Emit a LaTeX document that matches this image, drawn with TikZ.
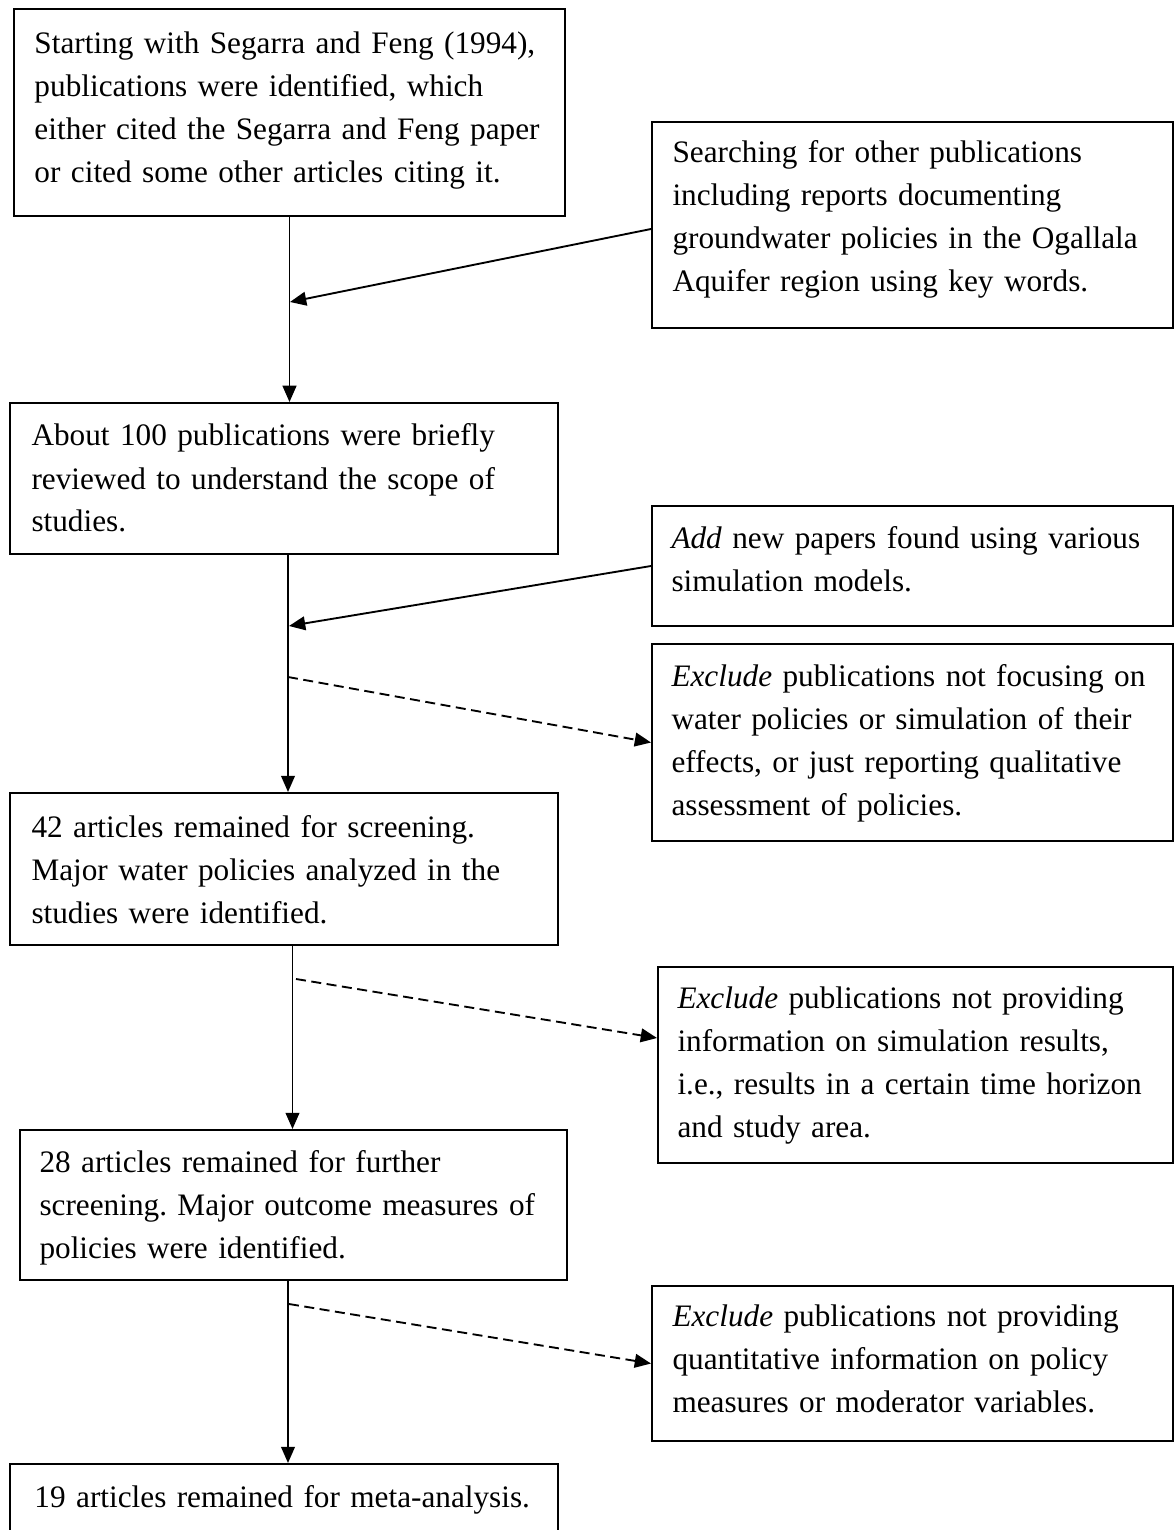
\documentclass[tikz,border=0pt]{standalone}
\usepackage{fontspec}
\setmainfont{Liberation Serif}
\usetikzlibrary{arrows.meta}
\frenchspacing
\begin{document}
\begin{tikzpicture}[x=0.4pt,y=-0.4pt,
  box/.style={draw=black, line width=0.8pt, rectangle, anchor=north west, inner sep=0pt},
  txt/.style={anchor=base west, inner sep=0pt, align=left, text width=#1, font=\fontsize{12.5}{17.2}\selectfont\frenchspacing},
  txt/.default=205pt,
  conn/.style={line width=0.75pt, -{Triangle[length=6.5pt,width=5.5pt]}},
  dconn/.style={conn, dash pattern=on 4pt off 2.2pt}]
\useasboundingbox (0,0) rectangle (1173,1530);

% boxes
\node[box, minimum width=551*0.4pt,   minimum height=207*0.4pt] (b1)  at (13,8) {};
\node[box, minimum width=520.5*0.4pt, minimum height=206*0.4pt] (b2)  at (651,121) {};
\node[box, minimum width=548*0.4pt,   minimum height=151*0.4pt] (b3)  at (9,402) {};
\node[box, minimum width=520.5*0.4pt, minimum height=120*0.4pt] (b4)  at (651,505) {};
\node[box, minimum width=520.5*0.4pt, minimum height=197*0.4pt] (b5)  at (651,643) {};
\node[box, minimum width=548*0.4pt,   minimum height=152*0.4pt] (b6)  at (9,792) {};
\node[box, minimum width=514.5*0.4pt, minimum height=196*0.4pt] (b7)  at (657,966) {};
\node[box, minimum width=547*0.4pt,   minimum height=150*0.4pt] (b8)  at (19,1129) {};
\node[box, minimum width=520.5*0.4pt, minimum height=155*0.4pt] (b9)  at (651,1285) {};
\node[box, minimum width=548*0.4pt,   minimum height=97*0.4pt]  (b10) at (9,1463) {};

% texts
\node[txt=215pt] (t1) at (34,54) {Starting with Segarra and Feng (1994),\\ publications were identified, which\\ either cited the Segarra and Feng paper\\ or cited some other articles citing it.};
\node[txt] (t2) at (672,163) {Searching for other publications\\ including reports documenting\\ groundwater policies in the Ogallala\\ Aquifer region using key words.};
\node[txt=215pt] (t3) at (31,446) {About 100 publications were briefly\\ reviewed to understand the scope of\\ studies.};
\node[txt] (t4) at (671,548) {\textit{Add} new papers found using various\\ simulation models.};
\node[txt] (t5) at (671,686) {\textit{Exclude} publications not focusing on\\ water policies or simulation of their\\ effects, or just reporting qualitative\\ assessment of policies.};
\node[txt=215pt] (t6) at (31,837) {42 articles remained for screening.\\ Major water policies analyzed in the\\ studies were identified.};
\node[txt] (t7) at (677,1008) {\textit{Exclude} publications not providing\\ information on simulation results,\\ i.e., results in a certain time horizon\\ and study area.};
\node[txt=215pt] (t8) at (39,1172) {28 articles remained for further\\ screening. Major outcome measures of\\ policies were identified.};
\node[txt] (t9) at (672,1326) {\textit{Exclude} publications not providing\\ quantitative information on policy\\ measures or moderator variables.};
\node[txt=215pt] (t10) at (34,1507) {19 articles remained for meta-analysis.};

% junction coordinates
\coordinate (v2) at (288,0);
\coordinate (v3) at (292.5,0);
\coordinate (v4) at (288,0);
\coordinate (j1) at (290,302);
\coordinate (j2) at (289,626);
\coordinate (k1) at (288,677);
\coordinate (k2) at (296,979);
\coordinate (k3) at (289,1304);

% main flow
\draw[conn] (b1.south) -- (b1.south |- b3.north);
\draw[conn] (b3.south -| v2) -- (b6.north -| v2);
\draw[conn] (b6.south -| v3) -- (b8.north -| v3);
\draw[conn] (b8.south -| v4) -- (b10.north -| v4);

% side inputs
\draw[conn] ([yshift=-1.6pt]b2.west) -- (j1);
\draw[conn] (b4.west) -- (j2);

% exclusions
\draw[dconn] (k1) -- (b5.west);
\draw[dconn] (k2) -- ([yshift=10.8pt]b7.west);
\draw[dconn] (k3) -- (b9.west);
\end{tikzpicture}
\end{document}
